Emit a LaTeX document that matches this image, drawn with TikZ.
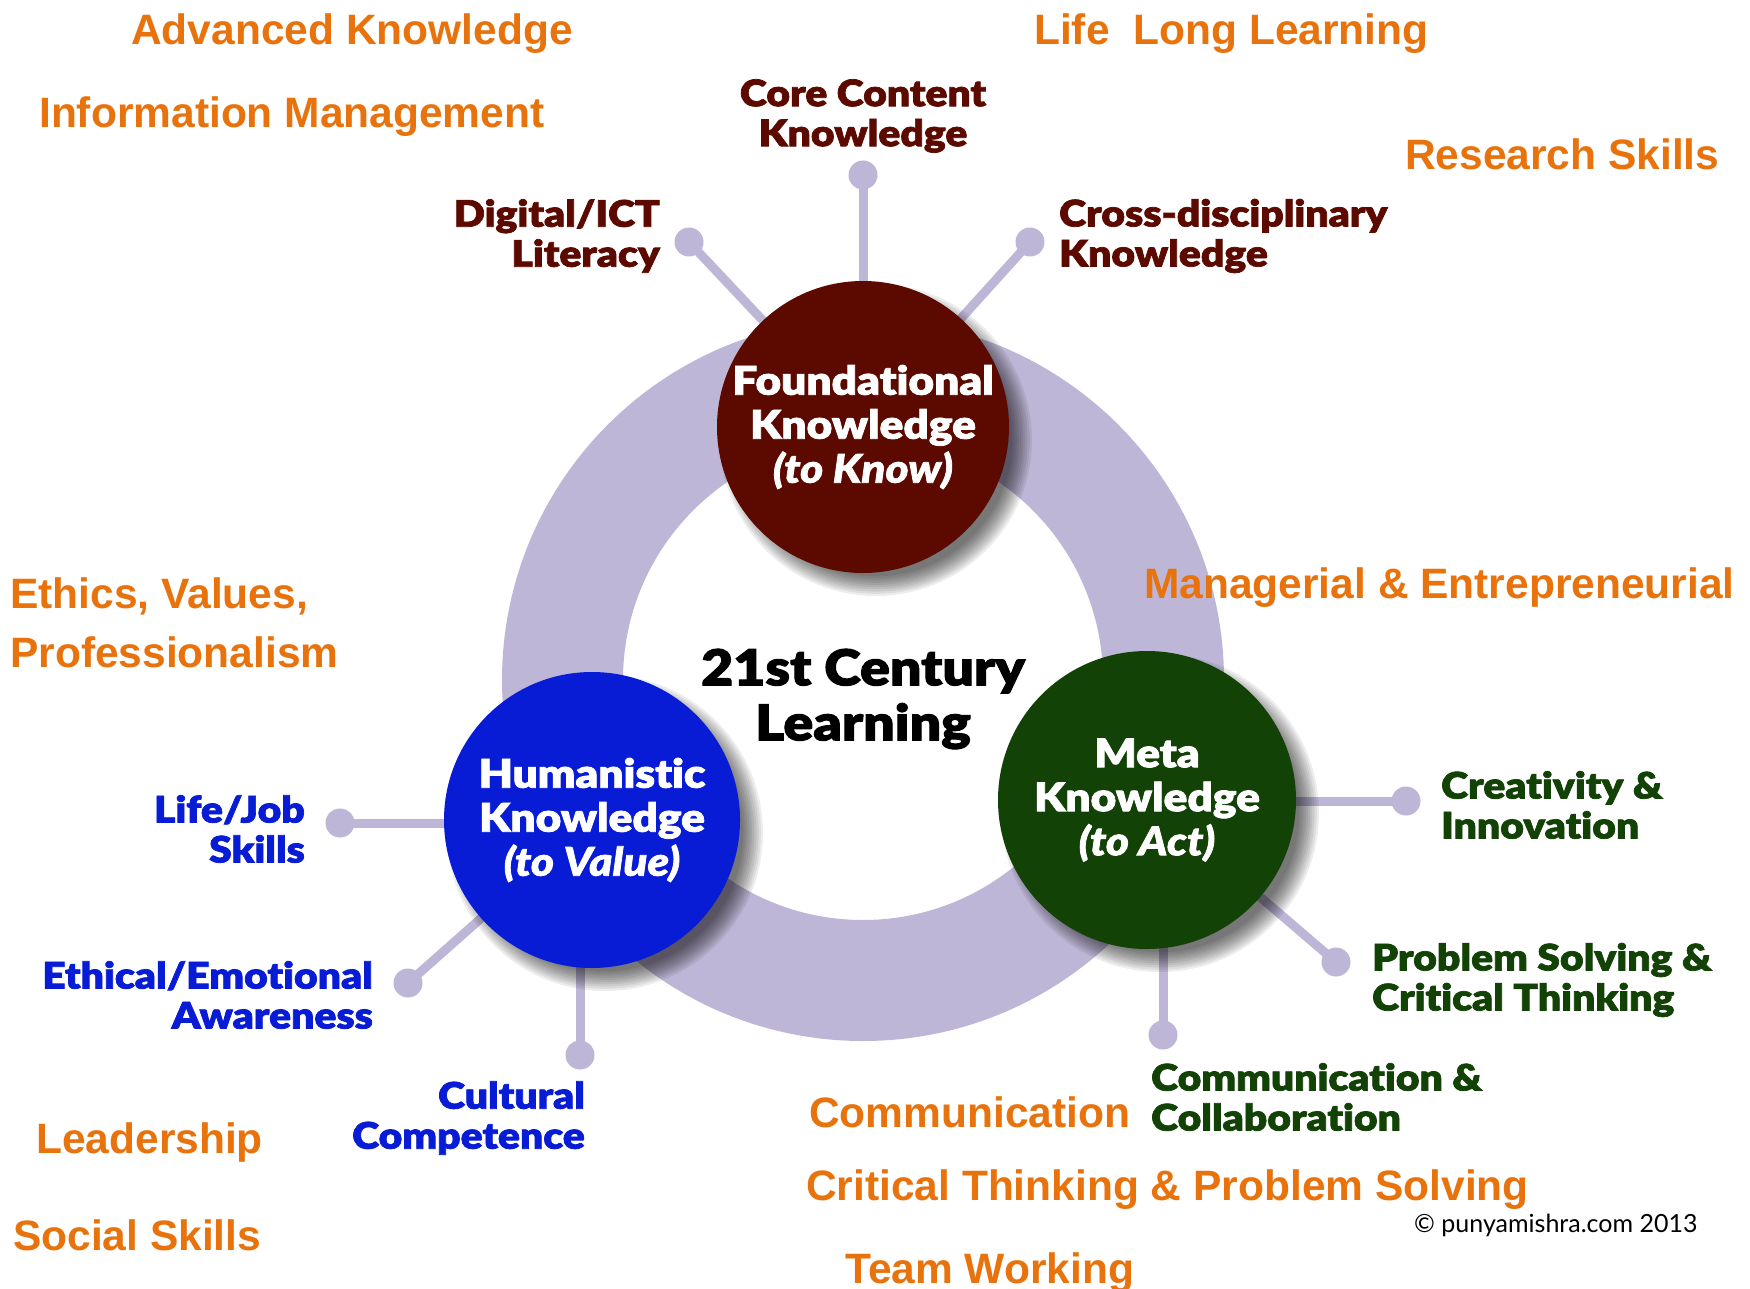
\documentclass[tikz,border=0pt]{standalone}
\usepackage{fontspec}
\setmainfont{Liberation Sans}
\newfontfamily\gill{Lato Black}[FakeStretch=1.12, FakeBold=2, Ligatures=NoCommon]
\newfontfamily\gillit{Lato Black Italic}[FakeStretch=1.12, FakeBold=2, Ligatures=NoCommon]
\newfontfamily\gillreg{Lato}
\definecolor{ring}{RGB}{190,182,214}
\definecolor{maroon}{RGB}{92,10,0}
\definecolor{fblue}{RGB}{8,28,214}
\definecolor{fgreen}{RGB}{18,66,5}
\definecolor{orng}{RGB}{232,114,12}
\tikzset{
  spoke/.style={draw=ring, line width=9pt},
  dotnode/.style={circle, fill=ring, minimum size=29pt, inner sep=0pt},
  bigcirc/.style={circle, minimum size=#1, inner sep=0pt, text=white, align=center,
     font=\gill\fontsize{39.5}{44}\selectfont},
  lab/.style={font=\gill\fontsize{36.5}{40}\selectfont, inner sep=0pt},
  orange/.style={text=orng, font=\bfseries\fontsize{42.5}{48}\selectfont, inner sep=0pt, anchor=base west}
}
\begin{document}
\begin{tikzpicture}[x=1pt,y=-1pt]
\useasboundingbox[fill=white] (0,0) rectangle (1750,1289);
% ring
\coordinate (rc) at (863,680);
\draw[ring, line width=121pt] (rc) circle[radius=300.5pt];
% dots
\node[dotnode] (dcore) at (863,175) {};
\node[dotnode] (ddig) at (689,242) {};
\node[dotnode] (dcross) at (1030,242) {};
\node[dotnode] (dcre) at (1406,801) {};
\node[dotnode] (dprob) at (1336,962) {};
\node[dotnode] (dcomm) at (1163,1035) {};
\node[dotnode] (dlife) at (340,823) {};
\node[dotnode] (deth) at (408,983) {};
\node[dotnode] (dcult) at (580,1055) {};
% circle centres
\coordinate (cf) at (863,427);
\coordinate (ch) at (592,820);
\coordinate (cm) at (1147,800);
% spokes
\draw[spoke] (dcore.center) -- (dcore.center |- cf);
\draw[spoke] (ddig.center) -- (cf);
\draw[spoke] (dcross.center) -- (cf);
\draw[spoke] (dcre.center) -- (dcre.center -| cm);
\draw[spoke] (dprob.center) -- (cm);
\draw[spoke] (dcomm.center) -- (dcomm.center |- cm);
\draw[spoke] (dlife.center) -- (dlife.center -| ch);
\draw[spoke] (deth.center) -- (ch);
\draw[spoke] (dcult.center) -- (dcult.center |- ch);
% shadows
\foreach \c/\r in {cf/146,ch/148,cm/149}{
  \foreach \k in {0,...,9}{
    \fill[black,opacity=0.07] ([shift={(13,13)}]\c) circle[radius=\r pt+10pt-\k*2.2pt];
  }
}
% main circles
\node[bigcirc=292pt, fill=maroon] (F) at (cf) {Foundational\\Knowledge\\{\gillit (to Know)}};
\node[bigcirc=296pt, fill=fblue] (H) at (ch) {Humanistic\\Knowledge\\{\gillit (to Value)}};
\node[bigcirc=298pt, fill=fgreen] (M) at (cm) {Meta\\Knowledge\\{\gillit (to Act)}};
% centre title
\node[font=\gill\fontsize{49.5}{55}\selectfont, align=center, inner sep=0pt] (title) at (863,699) {21st Century\\Learning};
% labels
\node[lab, text=maroon, align=center] (lcore) at (863,116) {Core Content\\Knowledge};
\node[lab, text=maroon, align=right, anchor=east] (ldig) at (660,236) {Digital/ICT\\Literacy};
\node[lab, text=maroon, align=left, anchor=west] (lcross) at (1059,236) {Cross-disciplinary\\Knowledge};
\node[lab, text=fgreen, align=left, anchor=west] (lcre) at (1441,805) {Creativity \&\\Innovation};
\node[lab, text=fgreen, align=left, anchor=west] (lprob) at (1372,980) {Problem Solving \&\\Critical Thinking};
\node[lab, text=fgreen, align=left, anchor=west] (lcomm) at (1151,1097) {Communication \&\\Collaboration};
\node[lab, text=fblue, align=right, anchor=east] (llife) at (305,829) {Life/Job\\Skills};
\node[lab, text=fblue, align=right, anchor=east] (leth) at (373,995) {Ethical/Emotional\\Awareness};
\node[lab, text=fblue, align=right, anchor=east] (lcult) at (585,1118) {Cultural\\Competence};
% orange texts
\node[orange] (o1) at (131,45) {Advanced Knowledge};
\node[orange] (o2) at (39,128) {Information Management};
\node[orange] (o3) at (1034,45) {Life\ \ Long Learning};
\node[orange] (o4) at (1405,170) {Research Skills};
\node[orange] (o5) at (10,608) {Ethics, Values,};
\node[orange] (o6) at (10,667) {Professionalism};
\node[orange] (o7) at (1144,598) {Managerial \& Entrepreneurial};
\node[orange] (o8) at (809,1127) {Communication};
\node[orange] (o9) at (806,1200) {Critical Thinking \& Problem Solving};
\node[orange] (o10) at (845,1283) {Team Working};
\node[orange] (o11) at (36,1153) {Leadership};
\node[orange] (o12) at (13,1250) {Social Skills};
\node[font=\gillreg\fontsize{25}{28}\selectfont, anchor=base west, inner sep=0pt] (copy) at (1414,1232) {© punyamishra.com 2013};
\end{tikzpicture}
\end{document}
